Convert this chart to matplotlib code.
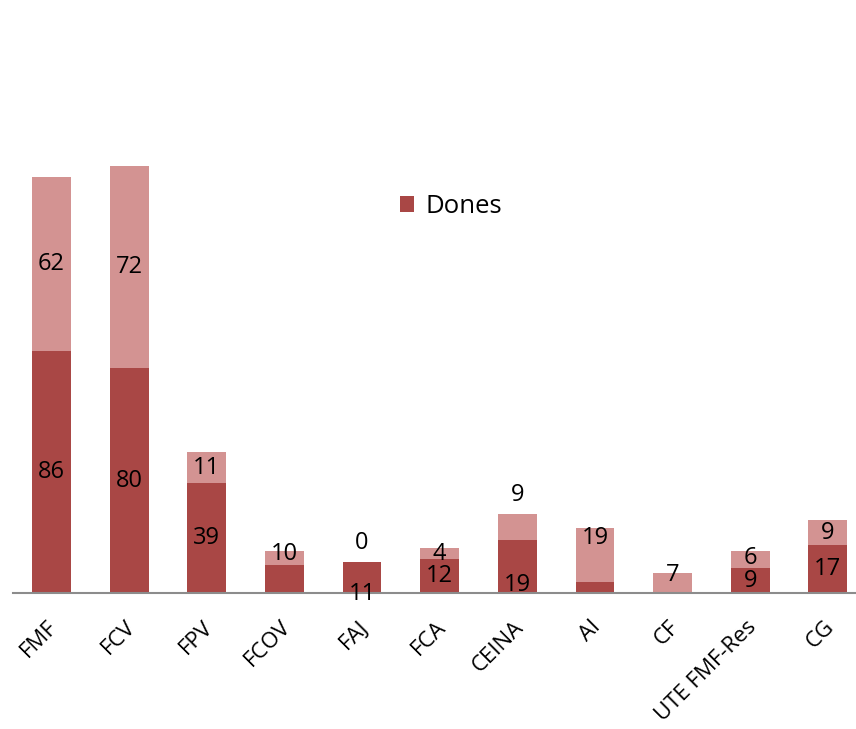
import matplotlib.pyplot as plt
import numpy as np

# ── Data ──────────────────────────────────────────────────────────────
categories = ["FMF", "FCV", "FPV", "FCOV", "FAJ", "FCA", "CEINA", "AI", "CF",
              "UTE FMF-Res", "CG"]
dones  = [86, 80, 39, 10, 11, 12, 19, 4, 0, 9, 17]
homes  = [62, 72, 11, 5, 0, 4, 9, 19, 7, 6, 9]

# label texts as shown (some segments have no label)
dones_labels = ["86", "80", "39", "10", "11", "12", "19", "", "", "9", "17"]
homes_labels = ["62", "72", "11", "", "0", "4", "9", "19", "7", "6", "9"]

# labels that were dragged away from the segment centre (pixels, + = up)
dones_shift = [0, 0, 0, 25, -16, 0, -19, 0, 0, -1, 0]
homes_shift = [0, 0, 0, 0, 19, 0, 32, 17, 8, 1, 0]

dark = "#A94745"
light = "#D39392"
plt.rcParams["font.family"] = ["Open Sans", "DejaVu Sans"]

fig = plt.figure(figsize=(8.56, 7.29), dpi=100)
ax = fig.add_axes([12.7 / 856, 1 - 593 / 729, 854 / 856, 562 / 729])

x = np.arange(len(categories))
ax.bar(x, dones, width=0.5, color=dark, label="Dones")
ax.bar(x, homes, width=0.5, bottom=dones, color=light)

ax.set_xlim(-0.5, len(categories) - 0.5)
ax.set_ylim(0, 200)

px = 0.72  # pixels -> points at 100 dpi
for i in range(len(categories)):
    if dones_labels[i]:
        ax.annotate(dones_labels[i], xy=(i, dones[i] / 2),
                    xytext=(0, dones_shift[i] * px), textcoords="offset points",
                    ha="center", va="center", fontsize=17)
    if homes_labels[i]:
        ax.annotate(homes_labels[i], xy=(i, dones[i] + homes[i] / 2),
                    xytext=(0, homes_shift[i] * px), textcoords="offset points",
                    ha="center", va="center", fontsize=17)
    # rotated category names
    ax.annotate(categories[i], xy=(i, 0), xytext=(3 * px, -31 * px),
                textcoords="offset points", rotation=45, ha="right",
                va="center", rotation_mode="anchor", fontsize=16)

for s in ["top", "right", "left"]:
    ax.spines[s].set_visible(False)
ax.spines["bottom"].set_color("#8c8c8c")
ax.spines["bottom"].set_linewidth(1.5)
ax.set_xticks([])
ax.set_yticks([])

ax.legend(loc="upper left", bbox_to_anchor=(377 / 856, 1 - 171 / 729),
          bbox_transform=fig.transFigure, frameon=False, fontsize=18.5,
          handlelength=0.55, handleheight=0.55, handletextpad=0.45)

plt.savefig("out.png", dpi=100)
